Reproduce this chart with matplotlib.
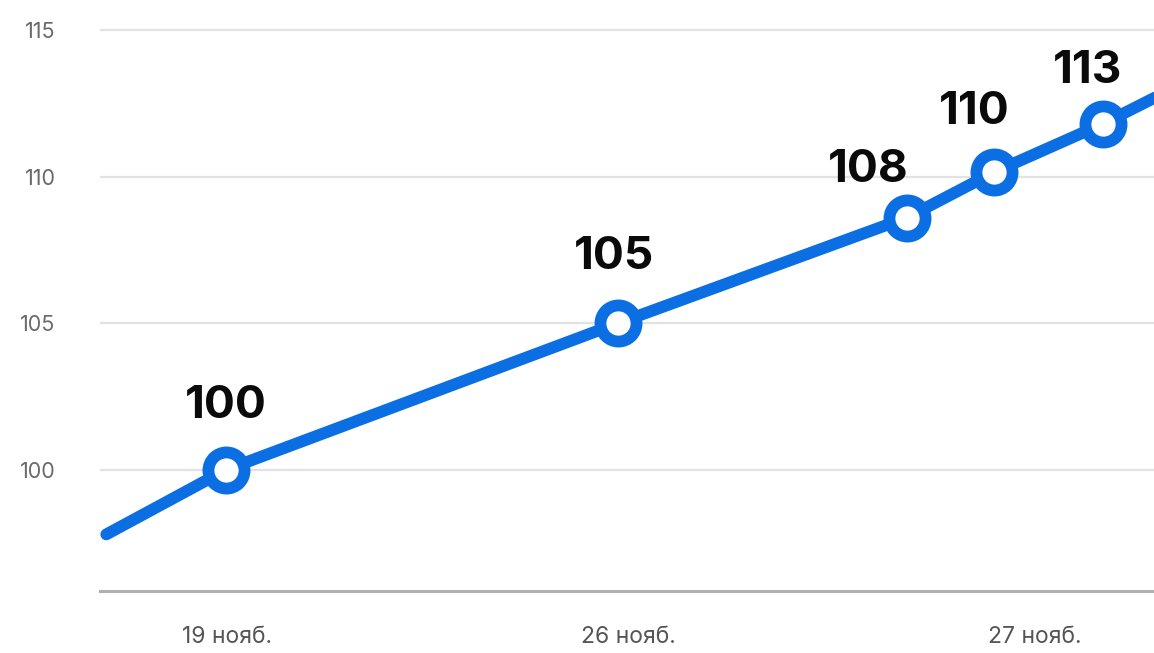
import matplotlib
matplotlib.use("Agg")
import matplotlib.pyplot as plt

# data
x_pos = [-0.305, 0.0, 1.0, 1.737, 1.959, 2.237, 2.40]
y_vals = [97.8, 100.0, 105.0, 108.6, 110.15, 111.8, 112.9]
point_x = [0.0, 1.0, 1.737, 1.959, 2.237]
point_y = [100.0, 105.0, 108.6, 110.15, 111.8]
point_labels = ["100", "105", "108", "110", "113"]
xtick_pos = [0.003, 1.026, 2.064]
xtick_labels = ["19 нояб.", "26 нояб.", "27 нояб."]
ytick_vals = [100, 105, 110, 115]

blue = "#0B6FE3"

fig = plt.figure(figsize=(11.54, 6.53), dpi=100)
ax = fig.add_axes([100/1154, 62/653, 1 - 100/1154, 591/653])
ax.set_xlim(-0.321, 2.367)
ax.set_ylim(95.87, 116.02)

for yv in ytick_vals:
    ax.axhline(yv, color="#e2e2e2", lw=1.6, zorder=1)

ax.plot(x_pos, y_vals, color=blue, lw=8.5, solid_capstyle="round", zorder=3, clip_on=False)
ax.plot(point_x, point_y, "o", ms=26, mfc="white", mec=blue, mew=8.5, zorder=4)

offsets = [(0, 46), (-3, 48), (-28, 34), (-14, 43), (-11, 38)]
for px, py, lab, (dx, dy) in zip(point_x, point_y, point_labels, offsets):
    ax.annotate(lab, (px, py), xytext=(dx, dy), textcoords="offset points",
                ha="center", va="center", fontsize=33, fontweight="bold",
                family=["Inter", "DejaVu Sans"], color="#0a0a0a", zorder=5)

for s in ["top", "right", "left"]:
    ax.spines[s].set_visible(False)
ax.spines["bottom"].set_color("#b0b0b0")
ax.spines["bottom"].set_linewidth(2.2)

ax.set_yticks(ytick_vals)
ax.set_yticklabels([str(v) for v in ytick_vals], family=["Inter", "DejaVu Sans"],
                   fontsize=15.5, color="#6a6a6a")
ax.set_xticks(xtick_pos)
ax.set_xticklabels(xtick_labels, family=["Inter", "DejaVu Sans"], fontsize=16.5, color="#555555")
ax.tick_params(axis="both", length=0)
ax.tick_params(axis="y", pad=32)
ax.tick_params(axis="x", pad=25)

fig.savefig("out.png", dpi=100)
